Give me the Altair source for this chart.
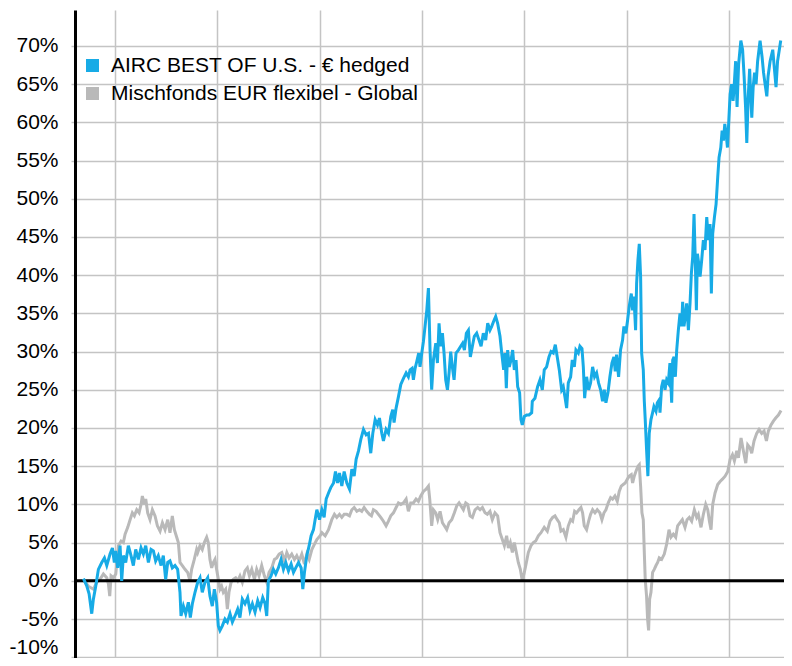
import altair as alt
import pandas as pd
import numpy as np

S1 = "AIRC BEST OF U.S. - € hedged"
S2 = "Mischfonds EUR flexibel - Global"

# time in decimal years, values in percent
blue_t = [
    2014.691, 2014.723, 2014.746, 2014.772, 2014.788, 2014.811, 2014.837, 2014.870, 2014.896, 2014.919,
    2014.951, 2014.974, 2014.993, 2015.007, 2015.026, 2015.049, 2015.065, 2015.081, 2015.104, 2015.130,
    2015.156, 2015.179, 2015.202, 2015.228, 2015.254, 2015.277, 2015.300, 2015.326, 2015.352, 2015.375,
    2015.397, 2015.423, 2015.450, 2015.472, 2015.495, 2015.515, 2015.537, 2015.560, 2015.586, 2015.612,
    2015.635, 2015.645, 2015.668, 2015.691, 2015.717, 2015.736, 2015.756, 2015.782, 2015.808, 2015.831,
    2015.853, 2015.879, 2015.906, 2015.928, 2015.951, 2015.971, 2015.993, 2016.010, 2016.026, 2016.049,
    2016.075, 2016.098, 2016.124, 2016.147, 2016.173, 2016.199, 2016.221, 2016.244, 2016.270, 2016.296,
    2016.319, 2016.342, 2016.368, 2016.394, 2016.417, 2016.443, 2016.466, 2016.482, 2016.498, 2016.524,
    2016.547, 2016.570, 2016.596, 2016.622, 2016.645, 2016.668, 2016.694, 2016.720, 2016.743, 2016.765,
    2016.792, 2016.818, 2016.834, 2016.850, 2016.873, 2016.896, 2016.915, 2016.938, 2016.954, 2016.971,
    2016.997, 2017.020, 2017.042, 2017.062, 2017.085, 2017.107, 2017.134, 2017.153, 2017.173, 2017.192,
    2017.215, 2017.238, 2017.264, 2017.290, 2017.313, 2017.336, 2017.355, 2017.378, 2017.401, 2017.427,
    2017.453, 2017.476, 2017.498, 2017.518, 2017.541, 2017.564, 2017.583, 2017.606, 2017.622, 2017.648,
    2017.671, 2017.694, 2017.713, 2017.726, 2017.746, 2017.769, 2017.792, 2017.818, 2017.844, 2017.866,
    2017.883, 2017.902, 2017.915, 2017.932, 2017.948, 2017.967, 2017.980, 2017.997, 2018.013, 2018.029,
    2018.046, 2018.062, 2018.078, 2018.094, 2018.111, 2018.134, 2018.150, 2018.166, 2018.182, 2018.199,
    2018.215, 2018.231, 2018.248, 2018.264, 2018.280, 2018.296, 2018.313, 2018.332, 2018.355, 2018.378,
    2018.397, 2018.414, 2018.433, 2018.453, 2018.472, 2018.492, 2018.511, 2018.534, 2018.557, 2018.577,
    2018.599, 2018.622, 2018.642, 2018.664, 2018.681, 2018.704, 2018.720, 2018.739, 2018.762, 2018.779,
    2018.798, 2018.811, 2018.824, 2018.837, 2018.853, 2018.870, 2018.886, 2018.902, 2018.919, 2018.935,
    2018.954, 2018.967, 2018.980, 2019.000, 2019.023, 2019.046, 2019.072, 2019.078, 2019.104, 2019.130,
    2019.153, 2019.176, 2019.195, 2019.218, 2019.241, 2019.261, 2019.283, 2019.303, 2019.322, 2019.342,
    2019.365, 2019.381, 2019.397, 2019.414, 2019.430, 2019.453, 2019.469, 2019.489, 2019.505, 2019.528,
    2019.544, 2019.564, 2019.577, 2019.590, 2019.609, 2019.629, 2019.648, 2019.668, 2019.687, 2019.707,
    2019.726, 2019.746, 2019.765, 2019.782, 2019.798, 2019.818, 2019.837, 2019.857, 2019.876, 2019.889,
    2019.902, 2019.922, 2019.941, 2019.961, 2019.974, 2019.993, 2020.010, 2020.026, 2020.046, 2020.059,
    2020.072, 2020.088, 2020.098, 2020.111, 2020.124, 2020.137, 2020.147, 2020.163, 2020.173, 2020.182,
    2020.195, 2020.208, 2020.221, 2020.238, 2020.254, 2020.267, 2020.287, 2020.300, 2020.319, 2020.326,
    2020.342, 2020.358, 2020.375, 2020.391, 2020.407, 2020.423, 2020.440, 2020.450, 2020.463, 2020.476,
    2020.489, 2020.505, 2020.521, 2020.537, 2020.547, 2020.560, 2020.573, 2020.586, 2020.603, 2020.619,
    2020.632, 2020.645, 2020.658, 2020.671, 2020.681, 2020.691, 2020.704, 2020.717, 2020.733, 2020.749,
    2020.765, 2020.782, 2020.798, 2020.814, 2020.827, 2020.840, 2020.857, 2020.873, 2020.889, 2020.902,
    2020.919, 2020.932, 2020.945, 2020.958, 2020.971, 2020.984, 2020.997, 2021.010, 2021.025, 2021.039,
    2021.049, 2021.064, 2021.078, 2021.093, 2021.115, 2021.132, 2021.147, 2021.161, 2021.173, 2021.186,
    2021.201, 2021.210, 2021.222, 2021.235, 2021.249, 2021.264, 2021.279, 2021.303, 2021.323, 2021.337,
    2021.352, 2021.369, 2021.381, 2021.401, 2021.427, 2021.440, 2021.459, 2021.474, 2021.489, 2021.505,
]
blue_v = [
    0.3, -0.65, -1.7, -4.3, -2.4, -0.7, 1.5, 2.4, 3.0, 2.0,
    3.5, 4.3, 2.4, 3.9, 1.7, 4.6, 0.0, 3.3, 2.4, 4.6,
    3.3, 2.0, 4.1, 2.8, 4.3, 3.5, 4.6, 2.4, 4.1, 3.9,
    2.6, 3.3, 2.0, 3.3, 0.2, 2.4, 2.6, 1.7, 2.0, 1.5,
    -1.5, -4.6, -3.3, -4.3, -2.8, -4.8, -3.0, -1.5, -0.2, 0.4,
    -1.5, -0.2, 0.4, -2.0, -3.3, -1.1, -2.8, -5.9, -6.5, -5.9,
    -5.0, -5.4, -4.3, -5.4, -4.6, -3.7, -4.8, -2.4, -3.0, -2.2,
    -3.9, -3.0, -4.1, -2.6, -3.5, -2.2, -3.0, -4.6, 0.0, 0.65,
    1.5, 0.9, 1.7, 2.8, 1.5, 2.4, 1.3, 2.2, 1.1, 1.7,
    2.4, 1.7, -1.1, 1.1, 3.3, 4.6, 5.9, 6.7, 8.0, 9.3,
    8.0, 9.3, 8.3, 10.7, 11.5, 12.2, 12.8, 14.3, 12.8, 14.1,
    12.4, 14.3, 12.8, 12.0, 14.6, 13.7, 15.9, 17.0, 18.5, 19.8,
    19.1, 19.3, 16.7, 19.3, 21.1, 20.4, 21.3, 19.3, 18.3, 19.8,
    19.3, 21.5, 22.4, 20.7, 22.6, 24.1, 25.7, 26.5, 27.2, 26.7,
    27.6, 27.8, 26.3, 27.8, 28.7, 29.8, 28.0, 29.8, 31.3, 33.3,
    35.4, 38.3, 30.2, 25.0, 28.9, 31.1, 28.5, 33.7, 30.7, 32.4,
    29.8, 26.3, 25.0, 27.2, 30.0, 28.0, 26.3, 29.8, 30.2, 30.7,
    31.1, 30.2, 32.4, 32.8, 29.3, 30.7, 32.0, 32.4, 31.5, 30.7,
    32.4, 31.5, 33.7, 32.8, 33.3, 34.1, 34.6, 33.7, 32.0, 29.8,
    27.6, 29.8, 25.2, 30.2, 28.0, 28.9, 30.2, 27.6, 28.9, 25.4,
    24.6, 21.1, 20.4, 21.5, 21.7, 21.7, 22.0, 23.5, 23.9, 25.4,
    26.3, 25.0, 27.6, 28.0, 29.3, 30.0, 29.8, 30.9, 29.3, 27.6,
    25.0, 25.4, 24.1, 22.6, 25.9, 26.7, 28.9, 28.0, 30.2, 29.8,
    30.7, 30.4, 28.0, 23.9, 26.7, 25.0, 25.9, 28.0, 26.7, 27.2,
    25.9, 25.0, 23.5, 25.0, 23.3, 24.6, 26.7, 28.5, 29.3, 27.4,
    29.6, 26.7, 30.2, 31.5, 33.3, 32.4, 34.1, 35.9, 37.6, 35.4,
    37.2, 32.8, 38.9, 42.0, 44.1, 39.8, 29.8, 27.6, 23.5, 21.1,
    17.2, 13.7, 19.3, 21.1, 22.0, 22.8, 22.2, 23.3, 23.7, 22.0,
    25.4, 26.3, 25.0, 26.3, 25.9, 28.5, 23.3, 28.9, 29.3, 26.7,
    30.2, 32.8, 35.0, 33.3, 36.5, 33.3, 34.6, 36.3, 32.8, 36.3,
    40.2, 42.4, 48.0, 41.5, 35.4, 42.8, 41.5, 39.8, 42.0, 44.6,
    43.3, 47.6, 44.6, 46.7, 37.6, 45.4, 47.6, 49.3, 52.8, 55.4,
    56.7, 58.9, 57.6, 59.8, 58.5, 56.7, 60.2, 63.7, 65.0, 62.8,
    64.6, 68.0, 62.0, 67.6, 70.7, 69.5, 66.0, 62.0, 57.3, 63.0,
    67.0, 64.0, 60.6, 64.5, 66.5, 65.0, 68.0, 70.7, 68.5, 66.5,
    65.0, 63.4, 66.0, 68.0, 69.5, 67.5, 64.6, 68.0, 69.3, 70.7,
]

gray_t = [
    2014.691, 2014.739, 2014.788, 2014.821, 2014.853, 2014.886, 2014.919, 2014.935, 2014.948, 2014.961,
    2014.984, 2015.007, 2015.033, 2015.059, 2015.081, 2015.098, 2015.124, 2015.147, 2015.169, 2015.189,
    2015.212, 2015.235, 2015.254, 2015.267, 2015.287, 2015.300, 2015.319, 2015.342, 2015.365, 2015.391,
    2015.414, 2015.440, 2015.463, 2015.489, 2015.515, 2015.537, 2015.560, 2015.580, 2015.603, 2015.619,
    2015.635, 2015.658, 2015.684, 2015.710, 2015.733, 2015.749, 2015.775, 2015.798, 2015.808, 2015.831,
    2015.853, 2015.873, 2015.896, 2015.912, 2015.928, 2015.945, 2015.961, 2015.977, 2015.993, 2016.010,
    2016.026, 2016.042, 2016.059, 2016.081, 2016.098, 2016.114, 2016.134, 2016.156, 2016.179, 2016.199,
    2016.221, 2016.244, 2016.270, 2016.293, 2016.313, 2016.336, 2016.362, 2016.384, 2016.407, 2016.433,
    2016.459, 2016.482, 2016.505, 2016.531, 2016.557, 2016.580, 2016.603, 2016.629, 2016.655, 2016.678,
    2016.700, 2016.726, 2016.752, 2016.775, 2016.798, 2016.824, 2016.850, 2016.873, 2016.896, 2016.922,
    2016.948, 2016.971, 2017.003, 2017.020, 2017.052, 2017.085, 2017.117, 2017.143, 2017.166, 2017.192,
    2017.215, 2017.238, 2017.264, 2017.290, 2017.313, 2017.336, 2017.362, 2017.388, 2017.410, 2017.433,
    2017.459, 2017.485, 2017.505, 2017.524, 2017.550, 2017.573, 2017.596, 2017.622, 2017.648, 2017.671,
    2017.694, 2017.720, 2017.746, 2017.769, 2017.792, 2017.818, 2017.844, 2017.866, 2017.889, 2017.915,
    2017.941, 2017.964, 2017.987, 2018.013, 2018.039, 2018.062, 2018.075, 2018.094, 2018.111, 2018.134,
    2018.153, 2018.176, 2018.199, 2018.218, 2018.241, 2018.264, 2018.290, 2018.316, 2018.339, 2018.362,
    2018.381, 2018.404, 2018.427, 2018.446, 2018.469, 2018.492, 2018.518, 2018.544, 2018.567, 2018.590,
    2018.616, 2018.638, 2018.664, 2018.687, 2018.713, 2018.739, 2018.762, 2018.785, 2018.805, 2018.827,
    2018.844, 2018.863, 2018.883, 2018.902, 2018.922, 2018.941, 2018.961, 2018.980, 2019.000, 2019.020,
    2019.039, 2019.065, 2019.088, 2019.111, 2019.137, 2019.163, 2019.195, 2019.225, 2019.251, 2019.277,
    2019.300, 2019.322, 2019.342, 2019.358, 2019.381, 2019.407, 2019.430, 2019.453, 2019.472, 2019.492,
    2019.511, 2019.534, 2019.554, 2019.570, 2019.586, 2019.609, 2019.629, 2019.648, 2019.668, 2019.691,
    2019.713, 2019.739, 2019.759, 2019.779, 2019.798, 2019.821, 2019.844, 2019.863, 2019.886, 2019.909,
    2019.928, 2019.948, 2019.967, 2019.987, 2020.007, 2020.026, 2020.046, 2020.059, 2020.075, 2020.091,
    2020.111, 2020.124, 2020.137, 2020.150, 2020.163, 2020.173, 2020.182, 2020.195, 2020.205, 2020.215,
    2020.225, 2020.238, 2020.254, 2020.270, 2020.287, 2020.303, 2020.319, 2020.342, 2020.368, 2020.391,
    2020.414, 2020.433, 2020.456, 2020.479, 2020.498, 2020.521, 2020.544, 2020.570, 2020.590, 2020.612,
    2020.635, 2020.661, 2020.684, 2020.700, 2020.726, 2020.749, 2020.772, 2020.792, 2020.808, 2020.824,
    2020.840, 2020.863, 2020.889, 2020.912, 2020.935, 2020.961, 2020.987, 2021.010, 2021.033, 2021.052,
    2021.075, 2021.091, 2021.117, 2021.140, 2021.163, 2021.182, 2021.205, 2021.221, 2021.244, 2021.270,
    2021.293, 2021.319, 2021.342, 2021.365, 2021.384, 2021.410, 2021.433, 2021.456, 2021.482, 2021.508,
]
gray_v = [
    0.2, -0.7, -1.1, -0.2, 0.2, 0.9, 0.4, -0.4, -2.0, 0.65,
    0.4, 0.9, 4.6, 5.2, 5.0, 6.1, 7.0, 8.0, 8.9, 8.5,
    9.3, 8.9, 10.0, 11.1, 10.0, 10.7, 8.9, 8.0, 9.3, 8.5,
    7.2, 6.5, 7.6, 6.7, 8.0, 6.3, 8.5, 6.7, 5.7, 5.0,
    2.4, 2.0, 1.5, 1.1, 0.0, 1.5, 2.8, 4.1, 3.7, 4.6,
    4.1, 5.0, 5.7, 5.0, 2.8, 1.7, 2.4, 2.8, 1.5, 0.2,
    -1.1, -0.7, -1.5, -1.1, -3.7, -1.5, -0.2, 0.2, 0.4, 0.0,
    0.65, -0.2, 1.3, 1.7, 0.65, 1.5, 0.2, 1.5, 0.65, 2.0,
    0.65, -0.2, 1.1, 1.7, 2.8, 3.0, 3.5, 3.7, 2.6, 3.7,
    3.0, 3.5, 2.8, 3.3, 2.6, 3.5, 2.2, 3.5, 2.8, 4.1,
    4.8, 5.4, 5.9, 6.3, 5.9, 6.7, 8.0, 8.7, 8.3, 8.7,
    8.3, 8.7, 8.7, 8.5, 9.3, 9.6, 9.1, 9.3, 9.1, 9.6,
    9.1, 8.7, 8.5, 9.3, 9.1, 8.7, 8.3, 7.8, 7.2, 7.8,
    8.5, 8.9, 9.6, 10.2, 10.0, 10.2, 10.7, 9.1, 10.2, 10.2,
    10.7, 10.4, 11.1, 11.7, 12.0, 12.4, 10.7, 7.2, 9.3, 8.9,
    8.0, 9.1, 7.6, 7.2, 6.7, 7.6, 8.0, 8.9, 9.8, 10.2,
    9.8, 9.3, 10.2, 10.0, 8.5, 8.3, 9.3, 9.6, 9.3, 9.6,
    8.9, 8.7, 9.1, 8.0, 8.9, 8.5, 6.3, 5.4, 4.6, 5.9,
    4.3, 5.0, 3.7, 5.0, 3.7, 2.4, 1.5, 0.0, 1.1, 2.4,
    3.7, 4.6, 5.0, 5.2, 5.9, 6.3, 7.0, 6.5, 7.8, 8.3,
    8.5, 8.0, 7.6, 6.5, 6.7, 5.7, 7.2, 8.0, 7.8, 9.1,
    8.9, 9.3, 9.6, 8.9, 7.2, 6.7, 7.8, 8.7, 9.3, 8.9,
    9.3, 8.9, 8.0, 8.9, 9.3, 10.2, 10.9, 10.7, 11.1, 10.4,
    11.7, 12.4, 12.6, 12.8, 13.3, 13.7, 13.9, 12.8, 13.7, 14.3,
    15.0, 15.2, 12.4, 8.9, 8.0, 3.7, 0.2, -2.0, -5.0, -6.5,
    -2.4, -1.5, 1.1, 1.5, 2.0, 2.4, 3.0, 2.8, 3.5, 4.8,
    6.7, 5.7, 6.1, 5.7, 7.2, 7.6, 8.0, 7.0, 8.0, 8.3,
    7.8, 9.3, 8.3, 8.7, 7.0, 8.7, 10.0, 9.3, 7.8, 6.7,
    10.0, 11.5, 12.6, 13.0, 13.3, 13.7, 14.3, 15.9, 16.5, 15.7,
    17.0, 16.1, 18.7, 17.0, 15.4, 17.8, 17.4, 16.7, 18.3, 19.3,
    19.8, 19.3, 19.6, 18.3, 19.6, 20.4, 20.9, 21.3, 21.7, 22.3,
]

y_ticks = list(range(-10, 75, 5))
grid_years = [2015, 2016, 2017, 2018, 2019, 2020, 2021]


def to_date(t):
    y = int(np.floor(t))
    a = pd.Timestamp(year=y, month=1, day=1)
    b = pd.Timestamp(year=y + 1, month=1, day=1)
    return a + (b - a) * (t - y)


df_b = pd.DataFrame({"date": [to_date(t) for t in blue_t], "value": blue_v, "series": S1})
df_g = pd.DataFrame({"date": [to_date(t) for t in gray_t], "value": gray_v, "series": S2})
df_all = pd.concat([df_b, df_g], ignore_index=True)
df_zero = pd.DataFrame({"v": [0]})

FONT = "Liberation Sans"
GRID = "#c4c4c4"
color_scale = alt.Scale(domain=[S1, S2], range=["#17ABE6", "#B9B9B9"])

x_enc = alt.X(
    "date:T",
    scale=alt.Scale(domain=[alt.DateTime(year=2014, month=8, date=11),
                            alt.DateTime(year=2021, month=7, date=16)]),
    axis=alt.Axis(values=[alt.DateTime(year=y, month=1, date=1) for y in grid_years],
                  labels=False, ticks=False, domain=False, grid=True, title=None,
                  gridColor=GRID, gridWidth=1.5),
)
y_enc = alt.Y(
    "value:Q",
    scale=alt.Scale(domain=[-10.1, 74.7], nice=False, zero=False),
    axis=alt.Axis(values=y_ticks, labelExpr="datum.value + '%'", title=None,
                  domain=True, domainColor="black", domainWidth=3,
                  tickSize=4, tickColor=GRID, tickWidth=1.5,
                  labelFontSize=21, labelFont=FONT, labelColor="black", labelPadding=13,
                  labelBaseline={"condition": {"test": "datum.value <= -10", "value": "bottom"},
                                 "value": "middle"},
                  grid=True, gridColor=GRID, gridWidth=1.5),
)

color_legend = alt.Color(
    "series:N", scale=color_scale,
    legend=alt.Legend(title=None, orient="none", legendX=7, legendY=45,
                      symbolType="square", symbolSize=169, symbolStrokeWidth=0,
                      symbolOpacity=1,
                      labelFontSize=21, labelFont=FONT, labelColor="black",
                      labelLimit=600, rowPadding=6, padding=0, labelOffset=8),
)
color_plain = alt.Color("series:N", scale=color_scale, legend=None)

# empty layer that only carries the legend (filled squares)
legend_layer = alt.Chart(df_all).transform_filter("false").mark_square(
    filled=True, opacity=1).encode(x=x_enc, y=y_enc, color=color_legend)
zero = alt.Chart(df_zero).mark_rule(color="black", strokeWidth=3).encode(y=alt.Y("v:Q"))
gray_line = alt.Chart(df_g).mark_line(strokeWidth=3).encode(x=x_enc, y=y_enc, color=color_plain)
blue_line = alt.Chart(df_b).mark_line(strokeWidth=3).encode(x=x_enc, y=y_enc, color=color_plain)

chart = alt.layer(legend_layer, gray_line, zero, blue_line).properties(
    width=709, height=648,
    autosize=alt.AutoSizeParams(type="none"),
    padding={"left": 67, "top": 2, "right": 0, "bottom": 0},
).configure_view(stroke=None)

chart.save("out.html", embed_options={"renderer": "svg", "actions": False})
